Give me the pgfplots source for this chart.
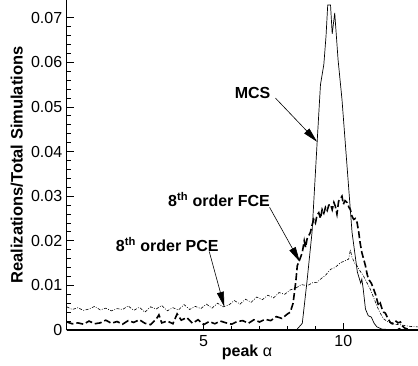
\documentclass[border=0pt]{standalone}
\usepackage{fontspec}
\setmainfont{Liberation Sans}
\usepackage{pgfplots}
\pgfplotsset{compat=1.18}
\usetikzlibrary{arrows.meta}
\begin{document}
\fontsize{16bp}{18bp}\selectfont
\begin{tikzpicture}
\useasboundingbox (-66.7bp,-36bp) rectangle (351.3bp,330bp);
\begin{axis}[
  at={(0,0)}, anchor=south west,
  scale only axis, width=351.3bp, height=330bp,
  xmin=0.1, xmax=12.67, ymin=0, ymax=0.074,
  axis lines=left, axis line style={-, line width=1.2bp},
  xtick={5,10}, minor x tick num=4,
  ytick={0,0.01,0.02,0.03,0.04,0.05,0.06,0.07}, minor y tick num=4,
  scaled y ticks=false,
  tick align=inside,
  major tick length=7bp, minor tick length=4bp,
  every tick/.style={black, line width=0.9bp},
  /pgf/number format/assume math mode=true,
  yticklabel style={/pgf/number format/fixed, /pgf/number format/precision=2, xshift=1bp},
  tick label style={font=\fontsize{16bp}{18bp}\selectfont},
  xlabel={\textbf{peak} α},
  xlabel style={at={(axis description cs:0.513,0)}, anchor=center, yshift=-22bp},
  ylabel={\textbf{Realizations/Total Simulations}},
  ylabel style={at={(axis description cs:-0.142,0.5)}, anchor=center, font=\fontsize{16.5bp}{18bp}\selectfont},
  xlabel style={font=\fontsize{16bp}{18bp}\selectfont},
  clip=false,
]
% MCS
\addplot[black, line width=0.7bp] coordinates {
(0.1,0) (8.32,0) (8.53,0.0015) (8.7,0.011) (8.88,0.022) (9.06,0.042) (9.18,0.055)
(9.3,0.0595) (9.38,0.066) (9.44,0.0729) (9.54,0.0729) (9.6,0.0664) (9.69,0.0711)
(9.81,0.0606) (9.95,0.0517) (10.13,0.0368) (10.31,0.0219) (10.5,0.013) (10.62,0.0105)
(10.66,0.0114) (10.71,0.0092) (10.79,0.0047) (10.89,0.0032) (11.0,0.0029) (11.1,0.0015)
(11.2,0.0007) (11.38,0.0002) (11.9,0) (12.0,0.0004) (12.1,0) (12.67,0)
};
% 8th order FCE
\addplot[black, line width=1.6bp, dash pattern=on 7bp off 3bp] coordinates {
(0.1,0.0018) (0.3,0.0014) (0.5,0.0016) (0.7,0.0013) (0.9,0.0020) (1.1,0.0014)
(1.3,0.0016) (1.5,0.0022) (1.7,0.0015) (1.9,0.0019) (2.1,0.0013) (2.3,0.0021)
(2.5,0.0017) (2.7,0.0023) (2.9,0.0015) (3.1,0.0012) (3.3,0.0024) (3.4,0.0034)
(3.5,0.0016) (3.7,0.0020) (3.9,0.0014) (4.05,0.0036) (4.2,0.0022) (4.4,0.0028)
(4.6,0.0015) (4.8,0.0023) (5.0,0.0012) (5.2,0.0019) (5.4,0.0014) (5.6,0.0020)
(5.8,0.0016) (6.0,0.0013) (6.2,0.0019) (6.4,0.0021) (6.6,0.0015) (6.8,0.0023)
(7.0,0.0018) (7.2,0.0024) (7.4,0.0021) (7.6,0.0030) (7.8,0.0026) (8.0,0.0036)
(8.1,0.0040) (8.2,0.0060) (8.3,0.0110) (8.35,0.0144) (8.45,0.0160) (8.53,0.0174)
(8.6,0.0200) (8.65,0.0185) (8.7,0.0204) (8.82,0.0219) (8.88,0.0235) (8.94,0.0248)
(9.0,0.0240) (9.06,0.0258) (9.12,0.0263) (9.18,0.0250) (9.24,0.0270) (9.3,0.0262)
(9.36,0.0275) (9.42,0.0268) (9.48,0.0280) (9.54,0.0282) (9.6,0.0270) (9.66,0.0286)
(9.71,0.0278) (9.77,0.0260) (9.83,0.0289) (9.9,0.0295) (9.95,0.0300) (10.0,0.0282)
(10.06,0.0290) (10.13,0.0286) (10.2,0.0275) (10.25,0.0270) (10.31,0.0255) (10.37,0.0248)
(10.43,0.0250) (10.49,0.0241) (10.55,0.0219) (10.6,0.0195) (10.66,0.0174) (10.72,0.0160)
(10.79,0.0144) (10.85,0.0125) (10.9,0.0114) (11.0,0.0105) (11.08,0.0092) (11.15,0.0080)
(11.26,0.0054) (11.32,0.0060) (11.38,0.0048) (11.44,0.0040) (11.5,0.0038) (11.6,0.0025)
(11.68,0.0017) (11.75,0.0014) (11.86,0.0021) (11.95,0.0016) (12.04,0.0018) (12.1,0.0010)
(12.2,0.0004) (12.3,0.0002)
};
% 8th order PCE
\addplot[black, line width=0.6bp, dash pattern=on 3bp off 1.5bp on 0.8bp off 1.5bp] coordinates {
(0.1,0.0052) (0.3,0.0046) (0.5,0.0050) (0.7,0.0044) (0.9,0.0047) (1.1,0.0053)
(1.3,0.0045) (1.5,0.0049) (1.7,0.0043) (1.9,0.0048) (2.1,0.0046) (2.3,0.0054)
(2.5,0.0044) (2.7,0.0051) (2.9,0.0040) (3.1,0.0052) (3.3,0.0047) (3.5,0.0055)
(3.7,0.0043) (3.9,0.0050) (4.1,0.0045) (4.3,0.0057) (4.5,0.0046) (4.7,0.0053)
(4.9,0.0048) (5.1,0.0058) (5.3,0.0049) (5.5,0.0060) (5.7,0.0052) (5.9,0.0056)
(6.1,0.0066) (6.3,0.0058) (6.5,0.0069) (6.7,0.0062) (6.9,0.0074) (7.1,0.0068)
(7.3,0.0078) (7.5,0.0072) (7.7,0.0084) (7.9,0.0080) (8.1,0.0090) (8.3,0.0094)
(8.5,0.0102) (8.7,0.0099) (8.9,0.0106) (9.06,0.0107) (9.2,0.0115) (9.35,0.0122)
(9.54,0.0136) (9.7,0.0140) (9.9,0.0151) (10.05,0.0155) (10.19,0.0159) (10.25,0.0180)
(10.3,0.0165) (10.4,0.0150) (10.49,0.0144) (10.6,0.0132) (10.72,0.0121) (10.85,0.0105)
(10.96,0.0092) (11.1,0.0070) (11.2,0.0054) (11.3,0.0040) (11.44,0.0025) (11.6,0.0018)
(11.8,0.0013) (12.0,0.0012) (12.2,0.0010) (12.4,0.0008) (12.67,0.0007)
};
% annotations
\node[font=\bfseries\fontsize{16bp}{18bp}\selectfont] at (axis cs:6.75,0.0531) {MCS};
\draw[line width=0.6bp, -{Triangle[length=15bp,width=7bp]}] (axis cs:7.57,0.052) -- (axis cs:9.06,0.0422);
\node[font=\bfseries\fontsize{16bp}{18bp}\selectfont] at (axis cs:5.55,0.0293) {8\textsuperscript{th} order FCE};
\draw[line width=0.6bp, -{Triangle[length=15bp,width=7bp]}] (axis cs:7.36,0.0275) -- (axis cs:8.44,0.0153);
\node[font=\bfseries\fontsize{16bp}{18bp}\selectfont] at (axis cs:3.7,0.0191) {8\textsuperscript{th} order PCE};
\draw[line width=0.6bp, -{Triangle[length=15bp,width=7bp]}] (axis cs:5.2,0.0176) -- (axis cs:5.74,0.0052);
\end{axis}
\end{tikzpicture}
\end{document}
